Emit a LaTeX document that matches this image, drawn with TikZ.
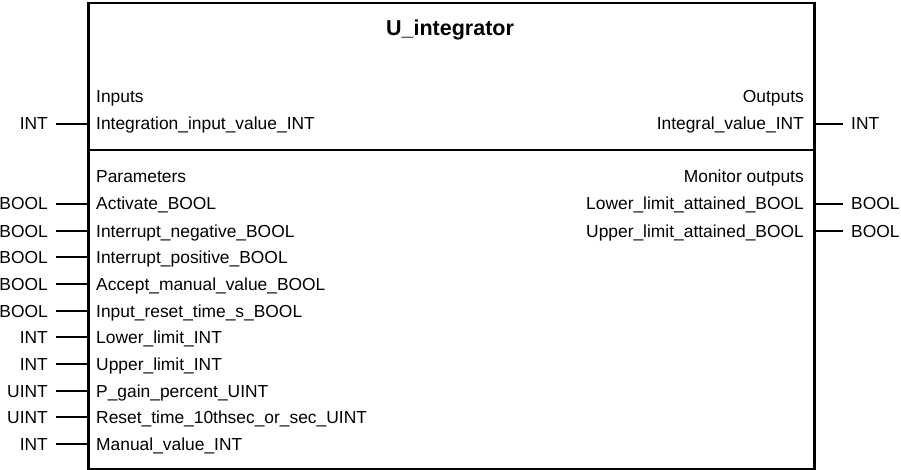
\documentclass[tikz,border=0pt]{standalone}
\usepackage{fontspec}
\setmainfont{Liberation Sans}
\tikzset{
  blockframe/.style={draw,line width=2.5pt,inner sep=0pt},
  pinlabel/.style={inner sep=0pt,text height=12pt,text depth=0pt,font=\fontsize{17.4}{20}\selectfont},
  pinline/.style={line width=2pt,shorten <=8pt}
}

\begin{document}
\begin{tikzpicture}[line cap=butt,line join=miter,x=1pt,y=-1pt]
    \useasboundingbox (0,0) rectangle (901,470);
    \node[blockframe,minimum width=726pt,minimum height=466pt,anchor=north west] (box) at (87,2) {};
    \coordinate (sep) at (450,150);
    \draw [line width=2.5pt] (sep -| box.west) -- (sep -| box.east);
    \node[anchor=base,inner sep=0pt,font=\fontsize{21.5}{24}\selectfont\bfseries] (title) at (450,36) {U\_integrator};
    % inputs
    \node[pinlabel,anchor=base west] (hIn) at (96,103) {Inputs};
    \node[pinlabel,anchor=base west] (pInt) at (96,130) {Integration\_input\_value\_INT};
    \node[pinlabel,anchor=base east] (tInt) at (48,130) {INT};
    \draw [pinline] (tInt.east) -- (tInt.east -| box.west);
    % outputs
    \node[pinlabel,anchor=base east] (hOut) at (804,103) {Outputs};
    \node[pinlabel,anchor=base east] (pVal) at (804,130) {Integral\_value\_INT};
    \node[pinlabel,anchor=base west] (tVal) at (851,130) {INT};
    \draw [pinline] (tVal.west) -- (tVal.west -| box.east);
    % parameters
    \node[pinlabel,anchor=base west] (hPar) at (96,183) {Parameters};
    \node[pinlabel,anchor=base west] (pAct) at (96,210) {Activate\_BOOL};
    \node[pinlabel,anchor=base east] (tAct) at (48,210) {BOOL};
    \draw [pinline] (tAct.east) -- (tAct.east -| box.west);
    \node[pinlabel,anchor=base west] (pNeg) at (96,237) {Interrupt\_negative\_BOOL};
    \node[pinlabel,anchor=base east] (tNeg) at (48,237) {BOOL};
    \draw [pinline] (tNeg.east) -- (tNeg.east -| box.west);
    \node[pinlabel,anchor=base west] (pPos) at (96,263) {Interrupt\_positive\_BOOL};
    \node[pinlabel,anchor=base east] (tPos) at (48,263) {BOOL};
    \draw [pinline] (tPos.east) -- (tPos.east -| box.west);
    \node[pinlabel,anchor=base west] (pAcc) at (96,290) {Accept\_manual\_value\_BOOL};
    \node[pinlabel,anchor=base east] (tAcc) at (48,290) {BOOL};
    \draw [pinline] (tAcc.east) -- (tAcc.east -| box.west);
    \node[pinlabel,anchor=base west] (pRst) at (96,317) {Input\_reset\_time\_s\_BOOL};
    \node[pinlabel,anchor=base east] (tRst) at (48,317) {BOOL};
    \draw [pinline] (tRst.east) -- (tRst.east -| box.west);
    \node[pinlabel,anchor=base west] (pLow) at (96,343) {Lower\_limit\_INT};
    \node[pinlabel,anchor=base east] (tLow) at (48,343) {INT};
    \draw [pinline] (tLow.east) -- (tLow.east -| box.west);
    \node[pinlabel,anchor=base west] (pUpp) at (96,370) {Upper\_limit\_INT};
    \node[pinlabel,anchor=base east] (tUpp) at (48,370) {INT};
    \draw [pinline] (tUpp.east) -- (tUpp.east -| box.west);
    \node[pinlabel,anchor=base west] (pGain) at (96,397) {P\_gain\_percent\_UINT};
    \node[pinlabel,anchor=base east] (tGain) at (48,397) {UINT};
    \draw [pinline] (tGain.east) -- (tGain.east -| box.west);
    \node[pinlabel,anchor=base west] (pTime) at (96,423) {Reset\_time\_10thsec\_or\_sec\_UINT};
    \node[pinlabel,anchor=base east] (tTime) at (48,423) {UINT};
    \draw [pinline] (tTime.east) -- (tTime.east -| box.west);
    \node[pinlabel,anchor=base west] (pMan) at (96,450) {Manual\_value\_INT};
    \node[pinlabel,anchor=base east] (tMan) at (48,450) {INT};
    \draw [pinline] (tMan.east) -- (tMan.east -| box.west);
    % monitor outputs
    \node[pinlabel,anchor=base east] (hMon) at (804,183) {Monitor outputs};
    \node[pinlabel,anchor=base east] (pLoLim) at (804,210) {Lower\_limit\_attained\_BOOL};
    \node[pinlabel,anchor=base west] (tLoLim) at (851,210) {BOOL};
    \draw [pinline] (tLoLim.west) -- (tLoLim.west -| box.east);
    \node[pinlabel,anchor=base east] (pUpLim) at (804,237) {Upper\_limit\_attained\_BOOL};
    \node[pinlabel,anchor=base west] (tUpLim) at (851,237) {BOOL};
    \draw [pinline] (tUpLim.west) -- (tUpLim.west -| box.east);
\end{tikzpicture}
\end{document}
